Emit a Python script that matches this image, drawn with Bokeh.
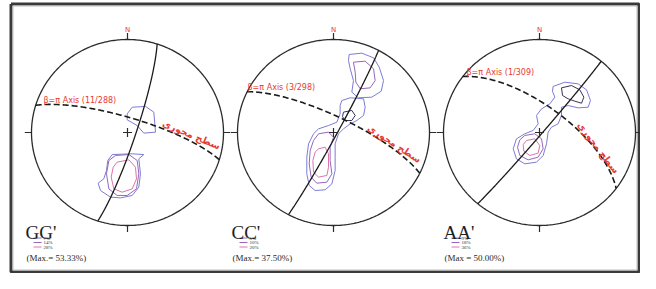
import numpy as np
from bokeh.plotting import figure
from bokeh.models import Range1d, Label
from bokeh.embed import file_html
from bokeh.resources import INLINE

# ---------------- data ----------------
net_names = ["GG'", "CC'", "AA'"]
beta_labels = ["\u03b2=\u03c0 Axis (11/288)", "\u03b2=\u03c0 Axis (3/298)", "\u03b2=\u03c0 Axis (1/309)"]
axial_label = "سطح محوری"
legend_levels = [["7%", "14%", "28%"], ["5%", "10%", "20%"], ["9%", "18%", "36%"]]
max_labels = ["(Max.= 53.33%)", "(Max.= 37.50%)", "(Max = 50.00%)"]

# pi-circle (solid) and axial plane (dashed): strike / dip in degrees
pi_strike = [18, 28, 40]
pi_dip = [83, 87, 88]
axial_strike = [287, 296, 307]
axial_dip = [77, 76, 67]

# contour loops in net units (x east, y north, primitive radius = 1); level 0/1/2, 3 = dark
contours = [
    [  # GG'
        (0, [0.049, 0.188, 0.274, 0.292, 0.170, 0.101, -0.003, -0.003],
            [0.272, 0.280, 0.219, 0.004, -0.007, 0.075, 0.136, 0.201]),
        (0, [-0.160, 0.049, 0.170, 0.118, 0.135, 0.118, 0.049, -0.073, -0.177, -0.281, -0.306, -0.247, -0.219, -0.205],
            [-0.237, -0.229, -0.237, -0.283, -0.444, -0.588, -0.677, -0.703, -0.695, -0.624, -0.545, -0.498, -0.409, -0.301]),
        (1, [-0.125, 0.014, 0.101, 0.118, 0.094, -0.003, -0.108, -0.194, -0.219, -0.194],
            [-0.247, -0.237, -0.301, -0.444, -0.606, -0.677, -0.677, -0.606, -0.444, -0.301]),
        (2, [-0.108, 0.014, 0.083, 0.094, 0.049, -0.056, -0.142, -0.170, -0.149],
            [-0.319, -0.294, -0.373, -0.498, -0.606, -0.642, -0.606, -0.480, -0.373]),
    ],
    [  # CC'
        (0, [0.163, 0.295, 0.417, 0.476, 0.521, 0.497, 0.399, 0.260, 0.191, 0.208, 0.174, 0.156],
            [0.839, 0.853, 0.803, 0.703, 0.559, 0.444, 0.380, 0.373, 0.434, 0.559, 0.685, 0.774]),
        (1, [0.208, 0.330, 0.417, 0.434, 0.382, 0.278, 0.233, 0.226],
            [0.756, 0.767, 0.685, 0.559, 0.480, 0.470, 0.541, 0.649]),
        (0, [0.087, 0.174, 0.313, 0.330, 0.313, 0.243, 0.174, 0.104, 0.052, 0.017, 0.017, 0.017, -0.017, -0.087,
             -0.191, -0.253, -0.278, -0.278, -0.260, -0.208, -0.156, -0.052, 0.035, 0.069, 0.069],
            [0.344, 0.373, 0.362, 0.272, 0.183, 0.129, 0.093, 0.039, -0.014, -0.122, -0.265, -0.409, -0.552, -0.616,
             -0.624, -0.570, -0.444, -0.265, -0.122, -0.014, 0.039, 0.075, 0.111, 0.201, 0.290]),
        (1, [-0.156, -0.052, 0.000, -0.035, -0.035, -0.017, -0.069, -0.174, -0.233, -0.253, -0.243, -0.208],
            [-0.014, 0.004, -0.050, -0.158, -0.301, -0.444, -0.534, -0.545, -0.480, -0.337, -0.194, -0.086]),
        (2, [-0.156, -0.087, -0.052, -0.052, -0.069, -0.156, -0.208, -0.215, -0.191],
            [-0.176, -0.158, -0.229, -0.373, -0.462, -0.480, -0.427, -0.301, -0.211]),
        (3, [0.104, 0.191, 0.226, 0.191, 0.122, 0.094],
            [0.219, 0.237, 0.183, 0.129, 0.129, 0.172]),
    ],
    [  # AA'
        (0, [0.142, 0.264, 0.403, 0.490, 0.531, 0.507, 0.403, 0.299, 0.229, 0.229, 0.194, 0.125, 0.090, 0.073,
             0.038, -0.031, -0.153, -0.240, -0.274, -0.240, -0.153, -0.066, -0.014, -0.031, 0.021, 0.108, 0.160, 0.135],
            [0.495, 0.541, 0.523, 0.459, 0.344, 0.272, 0.265, 0.290, 0.272, 0.183, 0.093, 0.057, 0.004, -0.122,
             -0.247, -0.319, -0.337, -0.283, -0.176, -0.068, -0.014, 0.022, 0.093, 0.183, 0.254, 0.308, 0.380, 0.444]),
        (3, [0.229, 0.333, 0.420, 0.462, 0.438, 0.368, 0.299, 0.240],
            [0.480, 0.505, 0.459, 0.380, 0.315, 0.337, 0.362, 0.398]),
        (1, [-0.153, -0.049, 0.021, 0.038, -0.014, -0.118, -0.205, -0.229, -0.205],
            [-0.032, -0.014, -0.068, -0.176, -0.265, -0.294, -0.247, -0.158, -0.079]),
        (2, [-0.135, -0.049, 0.003, -0.014, -0.101, -0.163, -0.170],
            [-0.086, -0.068, -0.140, -0.222, -0.247, -0.201, -0.129]),
    ],
]

# ---------------- style / layout ----------------
level_colors = ["#7c7cd6", "#9668ba", "#dc74ae", "#3c2f55"]
red = "#e8392f"
ink = "#2b2b2b"
centers_x = [127, 333, 539]   # pixel positions of the nets
center_y = 132
RX, RY = 96, 93
name_x = [25, 231, 443]

p = figure(width=640, height=273, x_range=Range1d(0, 640), y_range=Range1d(-273, 0),
           output_backend="svg", toolbar_location=None, min_border=0,
           x_axis_location=None, y_axis_location=None)
p.grid.visible = False
p.outline_line_color = None
p.background_fill_color = "white"
p.border_fill_color = "white"

# outer frame
p.line([10.5, 638.5, 638.5, 10.5, 10.5], [-3.5, -3.5, -271.5, -271.5, -3.5],
       line_color="#3a3a3a", line_width=3)
p.line([12.5, 636.5, 636.5, 12.5, 12.5], [-5.5, -5.5, -269.5, -269.5, -5.5],
       line_color="#bdbdbd", line_width=1)


def to_page(i, u, v):
    u = np.asarray(u, dtype=float)
    v = np.asarray(v, dtype=float)
    return centers_x[i] + RX * u, -center_y + RY * v


def great_circle(strike, dip, n=241):
    s = np.radians(strike)
    d = np.radians(dip)
    th = np.linspace(0, np.pi, n)
    sv = np.array([np.sin(s), np.cos(s), 0.0])
    dd = s + np.pi / 2
    dv = np.array([np.sin(dd) * np.cos(d), np.cos(dd) * np.cos(d), np.sin(d)])
    vec = np.outer(np.cos(th), sv) + np.outer(np.sin(th), dv)
    plunge = np.arcsin(np.clip(vec[:, 2], -1, 1))
    trend = np.arctan2(vec[:, 0], vec[:, 1])
    r = np.sqrt(2) * np.sin((np.pi / 2 - plunge) / 2)
    return r * np.sin(trend), r * np.cos(trend)


t = np.linspace(0, 2 * np.pi, 400)
for i in range(3):
    xs, ys = to_page(i, np.cos(t), np.sin(t))
    p.line(xs, ys, line_color=ink, line_width=1.3)
    for az in (0, 90, 180, 270):
        a = np.radians(az)
        xs, ys = to_page(i, [np.sin(a), 1.07 * np.sin(a)], [np.cos(a), 1.07 * np.cos(a)])
        p.line(xs, ys, line_color=ink, line_width=1.2)
    for lvl, cu, cv in contours[i]:
        xs, ys = to_page(i, cu + cu[:1], cv + cv[:1])
        p.line(xs, ys, line_color=level_colors[lvl], line_width=1.0)
    gu, gv = great_circle(pi_strike[i], pi_dip[i])
    xs, ys = to_page(i, gu, gv)
    p.line(xs, ys, line_color="#1a1a1a", line_width=1.3)
    gu, gv = great_circle(axial_strike[i], axial_dip[i])
    xs, ys = to_page(i, gu, gv)
    p.line(xs, ys, line_color="#1a1a1a", line_width=1.6, line_dash="6 3")
    cx_, cy_ = to_page(i, [0], [0])
    p.scatter(cx_, cy_, marker="cross", size=9, line_color=ink, line_width=1.2)
    p.add_layout(Label(x=centers_x[i], y=-29, text="N", text_font="DejaVu Sans",
                       text_font_size="7px", text_color=red, text_align="center",
                       text_baseline="middle"))

beta_pos = [(43, 100), (247, 87), (466, 72)]
for (bx, by), txt in zip(beta_pos, beta_labels):
    p.add_layout(Label(x=bx, y=-by, text=txt, text_font="DejaVu Sans", text_font_size="8px",
                       text_color=red, text_align="left", text_baseline="middle"))

axial_pos = [(191, 134, -0.40), (394, 143, -0.58), (598, 147, -0.92)]
for ax_, ay_, ang in axial_pos:
    p.add_layout(Label(x=ax_, y=-ay_, text=axial_label, text_font="DejaVu Sans",
                       text_font_size="9.5px", text_font_style="bold", text_color=red,
                       text_align="center", text_baseline="middle", angle=ang))

for i in range(3):
    nx = name_x[i]
    p.add_layout(Label(x=nx, y=-232, text=net_names[i], text_font="Liberation Serif",
                       text_font_size="19px", text_color="#1e1e1e", text_align="left",
                       text_baseline="alphabetic"))
    for k in range(3):
        ly = -(237.5 + 4.5 * k)
        p.line([nx + 8, nx + 16], [ly, ly], line_color=level_colors[k], line_width=1.0)
        p.add_layout(Label(x=nx + 18, y=ly, text=legend_levels[i][k], text_font="Liberation Serif",
                           text_font_size="5px", text_color="#333333", text_align="left",
                           text_baseline="middle"))
    p.add_layout(Label(x=nx + 1, y=-257, text=max_labels[i], text_font="Liberation Serif",
                       text_font_size="9px", text_color="#2a2a2a", text_align="left",
                       text_baseline="middle"))

open("out.html", "w").write(file_html(p, INLINE))
